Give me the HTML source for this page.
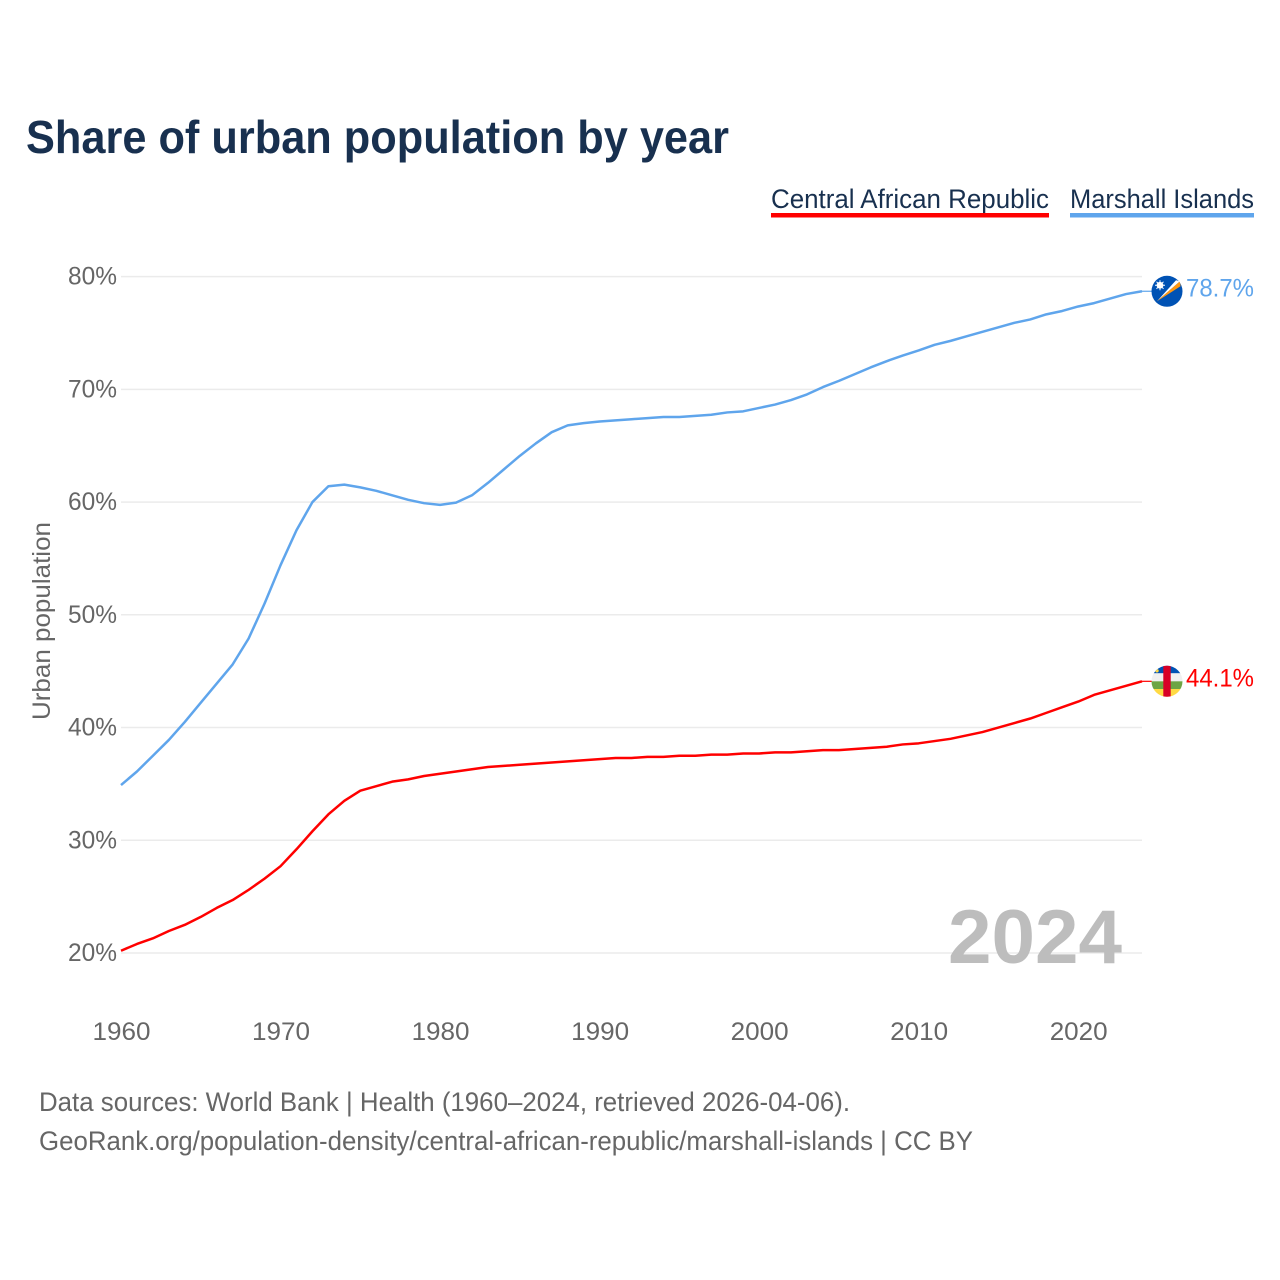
<!DOCTYPE html>
<html lang="en">
<head>
<meta charset="utf-8">
<title>Share of urban population by year</title>
<style>
html,body{margin:0;padding:0;background:#fff;}
svg{display:block;font-family:"Liberation Sans",sans-serif;}
</style>
</head>
<body>
<svg id="chart" xmlns="http://www.w3.org/2000/svg" width="1280" height="1280" viewBox="0 0 1280 1280">
  <rect x="0" y="0" width="1280" height="1280" fill="#fff"/>
  <text x="26" y="153" font-size="46" font-weight="700" fill="#18304f" textLength="703" lengthAdjust="spacingAndGlyphs">Share of urban population by year</text>

  <g>
    <text x="771" y="208" font-size="27" fill="#18304f" textLength="278" lengthAdjust="spacingAndGlyphs">Central African Republic</text>
    <rect x="771" y="213" width="278" height="4.5" fill="#ff0000"/>
  </g>
  <g>
    <text x="1070" y="208" font-size="27" fill="#18304f" textLength="184" lengthAdjust="spacingAndGlyphs">Marshall Islands</text>
    <rect x="1070" y="213" width="184" height="4.5" fill="#5fa5ec"/>
  </g>

  <text transform="translate(50,720) rotate(-90)" font-size="25" fill="#666" textLength="198" lengthAdjust="spacingAndGlyphs">Urban population</text>

  <g id="grid"></g>
  <g id="y-ticks"></g>
  <g id="x-ticks"></g>

  <text x="948" y="963" font-size="76" font-weight="700" fill="#bdbdbd" textLength="174" lengthAdjust="spacingAndGlyphs">2024</text>

  <g id="series"></g>

  <defs>
    <clipPath id="clip-mh"><circle id="clip-mh-c" cx="0" cy="0" r="15.5"/></clipPath>
    <clipPath id="clip-cf"><circle id="clip-cf-c" cx="0" cy="0" r="15.5"/></clipPath>
  </defs>

  <g id="flag-mh" clip-path="url(#clip-mh)">
    <rect x="-16" y="-16" width="32" height="32" fill="#0052b4"/>
    <polygon points="-10,10 9,-11 13,-10" fill="#ffffff"/>
    <polygon points="-10,10 13,-10 13.5,-5" fill="#ff9811"/>
    <circle cx="-7" cy="-6" r="3.4" fill="#ffffff"/>
    <path d="M-7,-11V-1M-12,-6H-2M-10.5,-9.5L-3.5,-2.5M-3.5,-9.5L-10.5,-2.5" stroke="#ffffff" stroke-width="1"/>
  </g>
  <g id="flag-cf" clip-path="url(#clip-cf)">
    <rect x="-16" y="-16" width="32" height="8" fill="#0052b4"/>
    <rect x="-16" y="-8" width="32" height="8" fill="#f0f0f0"/>
    <rect x="-16" y="0" width="32" height="7.7" fill="#6da544"/>
    <rect x="-16" y="7.7" width="32" height="8.3" fill="#ffda44"/>
    <rect x="-3.7" y="-16" width="7.4" height="32" fill="#d80027"/>
    <circle cx="-10" cy="-10.5" r="1.7" fill="#ffda44"/>
  </g>

  <g id="end-labels"></g>

  <text x="39" y="1111" font-size="26.5" fill="#666" textLength="811" lengthAdjust="spacingAndGlyphs">Data sources: World Bank | Health (1960–2024, retrieved 2026-04-06).</text>
  <text x="39" y="1150" font-size="26.5" fill="#666" textLength="934" lengthAdjust="spacingAndGlyphs">GeoRank.org/population-density/central-african-republic/marshall-islands | CC BY</text>
</svg>

<script>
const startYear = 1960;
const endYear = 2024;
const yTickValues = [20, 30, 40, 50, 60, 70, 80];
const xTickYears = [1960, 1970, 1980, 1990, 2000, 2010, 2020];

const marshallIslands = [
  34.9, 36.1, 37.5, 38.9, 40.5, 42.2, 43.9, 45.6, 47.9, 51.0,
  54.4, 57.5, 60.0, 61.4, 61.55, 61.3, 61.0, 60.6, 60.2, 59.9,
  59.75, 59.95, 60.6, 61.7, 62.9, 64.1, 65.2, 66.2, 66.8, 67.0,
  67.15, 67.25, 67.35, 67.45, 67.55, 67.55, 67.65, 67.75, 67.95, 68.05,
  68.35, 68.65, 69.05, 69.55, 70.2, 70.75, 71.35, 71.95, 72.5, 73.0,
  73.45, 73.95, 74.3, 74.7, 75.1, 75.5, 75.9, 76.2, 76.65, 76.95,
  77.35, 77.65, 78.05, 78.45, 78.7
];
const centralAfricanRepublic = [
  20.2, 20.8, 21.3, 21.95, 22.5, 23.2, 24.0, 24.7, 25.6, 26.6,
  27.7, 29.2, 30.8, 32.3, 33.5, 34.4, 34.8, 35.2, 35.4, 35.7,
  35.9, 36.1, 36.3, 36.5, 36.6, 36.7, 36.8, 36.9, 37.0, 37.1,
  37.2, 37.3, 37.3, 37.4, 37.4, 37.5, 37.5, 37.6, 37.6, 37.7,
  37.7, 37.8, 37.8, 37.9, 38.0, 38.0, 38.1, 38.2, 38.3, 38.5,
  38.6, 38.8, 39.0, 39.3, 39.6, 40.0, 40.4, 40.8, 41.3, 41.8,
  42.3, 42.9, 43.3, 43.7, 44.1
];

const SVG_NS = 'http://www.w3.org/2000/svg';
const plotLeft = 121;
const plotRight = 1142;
const plotBase = 953;
const plotTop = 276.6;

function xScale(year) {
  return plotLeft + (year - startYear) / (endYear - startYear) * (plotRight - plotLeft);
}
function yScale(value) {
  return plotBase - (value - 20) / (80 - 20) * (plotBase - plotTop);
}
function make(tag, attrs) {
  const el = document.createElementNS(SVG_NS, tag);
  Object.keys(attrs).forEach(function (k) { el.setAttribute(k, attrs[k]); });
  return el;
}

const gridGroup = document.getElementById('grid');
const yTickGroup = document.getElementById('y-ticks');
yTickValues.forEach(function (v) {
  const line = make('line', { x1: plotLeft, x2: plotRight, y1: yScale(v), y2: yScale(v), stroke: '#ebebeb', 'stroke-width': 1.5 });
  
  
  gridGroup.appendChild(line);

  const label = make('text', { x: 117, y: yScale(v) + 8, 'text-anchor': 'end', 'font-size': 25, fill: '#666', textLength: 49, lengthAdjust: 'spacingAndGlyphs' });
  
  
  label.textContent = v + '%';
  yTickGroup.appendChild(label);
});

const xTickGroup = document.getElementById('x-ticks');
xTickYears.forEach(function (yr) {
  const label = make('text', { x: xScale(yr) + 0.5, y: 1040, 'text-anchor': 'middle', 'font-size': 25, fill: '#666', textLength: 58, lengthAdjust: 'spacingAndGlyphs' });
  
  
  label.textContent = yr;
  xTickGroup.appendChild(label);
});

const seriesGroup = document.getElementById('series');
const labelGroup = document.getElementById('end-labels');

function drawSeries(values, color, key, flagId) {
  const pts = values.map(function (v, i) {
    return xScale(startYear + i).toFixed(2) + ',' + yScale(v).toFixed(2);
  }).join(' ');
  const line = make('polyline', { points: pts, fill: 'none', stroke: color, 'stroke-width': 2.5, 'stroke-linejoin': 'round' });
  
  
  seriesGroup.appendChild(line);

  const last = values[values.length - 1];
  const ly = yScale(last);
  const connector = make('line', { x1: plotRight, x2: plotRight + 10, y1: ly, y2: ly, stroke: color, 'stroke-width': 1.2 });
  
  
  seriesGroup.appendChild(connector);

  document.getElementById(flagId).setAttribute('transform', 'translate(1167,' + ly.toFixed(2) + ')');

  const label = make('text', { x: 1186, y: ly + 5, 'font-size': 25, fill: color, textLength: 68, lengthAdjust: 'spacingAndGlyphs' });
  
  
  label.textContent = last.toFixed(1) + '%';
  labelGroup.appendChild(label);
}

drawSeries(marshallIslands, '#5fa5ec', 'marshall-islands', 'flag-mh');
drawSeries(centralAfricanRepublic, '#ff0000', 'central-african-republic', 'flag-cf');
</script>
</body>
</html>
